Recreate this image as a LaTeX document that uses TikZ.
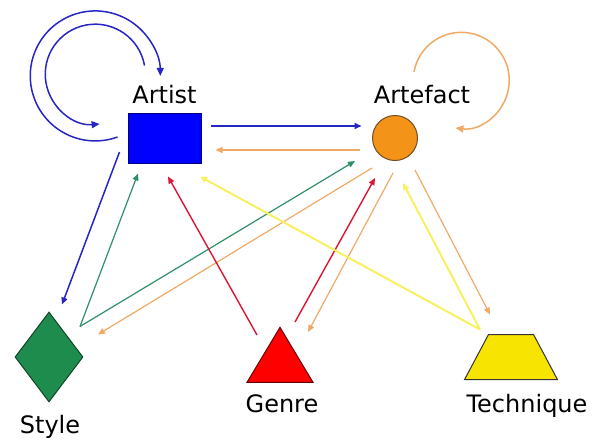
\documentclass[tikz,border=0pt]{standalone}
\usepackage{fontspec}
\setmainfont{DejaVu Sans}
\usetikzlibrary{shapes.geometric,arrows.meta}

\definecolor{artistblue}{HTML}{0000FF}
\definecolor{linkblue}{HTML}{2626C4}
\definecolor{artefactorange}{HTML}{F39419}
\definecolor{linkorange}{HTML}{F0AA66}
\definecolor{stylegreen}{HTML}{1E8C4C}
\definecolor{linkgreen}{HTML}{2E9068}
\definecolor{genrered}{HTML}{FF0000}
\definecolor{linkred}{HTML}{DC1436}
\definecolor{techyellow}{HTML}{F7E400}
\definecolor{linkyellow}{HTML}{F8F060}

\begin{document}
\begin{tikzpicture}[x=1pt, y=-1pt]
            \useasboundingbox (0,0) rectangle (592,442);

            % Stijlen
            \tikzset{
                lbl/.style={anchor=base, font=\fontsize{24pt}{28pt}\selectfont, inner sep=0pt},
                shp/.style={inner sep=0.5pt, line width=1pt},
                link/.style={-{Triangle[length=7pt,width=6pt]}, line width=1.2pt},
                loop/.style={-{Triangle[length=8pt,width=7pt]}, line width=1.5pt}
            }

            % Knopen
            \node[shp, rectangle, draw=blue!50!black, fill=artistblue,
                  minimum width=73pt, minimum height=50pt] (artist) at (164.5,138) {};
            \node[shp, circle, draw=brown!60!black, fill=artefactorange,
                  minimum size=45pt] (artefact) at (395,138) {};
            \node[shp, diamond, aspect=0.75, draw=stylegreen!50!black, fill=stylegreen,
                  minimum width=68pt, minimum height=90pt] (style) at (49,357) {};
            \node[shp, isosceles triangle, shape border rotate=90, isosceles triangle stretches,
                  draw=red!40!black, fill=genrered, minimum width=66pt, minimum height=55pt,
                  anchor=apex] (genre) at (280,326) {};
            \node[shp, trapezium, trapezium left angle=62, trapezium right angle=62,
                  draw=black!80, fill=techyellow,
                  minimum width=92pt, minimum height=45pt] (technique) at (511,357) {};

            % Labels
            \node[lbl] (artist-t) at (164.5,103) {Artist};
            \node[lbl] (artefact-t) at (422,103) {Artefact};
            \node[lbl] (style-t) at (50,433) {Style};
            \node[lbl] (genre-t) at (282,412) {Genre};
            \node[lbl] (technique-t) at (527,412) {Technique};

            % Lussen
            \draw[loop, linkblue] ([shift={(-10,-1)}]artist.west) arc[start angle=70, end angle=360, radius=65];
            \draw[loop, linkblue] ([shift={(-20,-47)}]artist.north) arc[start angle=-10, end angle=-275, radius=50];
            \draw[loop, linkorange] ([shift={(19,-43)}]artefact.north) arc[start angle=-170, end angle=97, radius=48];

            % Pijlen
            \draw[link, linkblue, line width=1.5pt] ([shift={(9,-12)}]artist.east) -- ([shift={(-10.5,-12)}]artefact.west);
            \draw[link, linkorange] ([shift={(-12.5,12)}]artefact.west) -- ([shift={(14,12)}]artist.east);
            \draw[link, linkblue, line width=1.5pt] ([shift={(-8,14)}]artist.west) -- ([shift={(13,-7)}]style.north);
            \draw[link, linkgreen] ([shift={(31,15)}]style.north) -- ([shift={(-26.5,10)}]artist.south);
            \draw[link, linkgreen] ([shift={(31,15)}]style.north) -- ([shift={(-40,23)}]artefact.center);
            \draw[link, linkorange] ([shift={(-23,30)}]artefact.center) -- ([shift={(49,23)}]style.north);
            \draw[link, linkred, line width=1.4pt] ([shift={(-23,9)}]genre.apex) -- ([shift={(3.5,13)}]artist.south);
            \draw[link, linkred, line width=1.4pt] ([shift={(15,-4)}]genre.apex) -- ([shift={(-20,40)}]artefact.center);
            \draw[link, linkorange] ([shift={(-2,35)}]artefact.center) -- ([shift={(28,6)}]genre.apex);
            \draw[link, linkyellow, line width=2pt] ([shift={(-31,-4.5)}]technique.north) -- ([shift={(35.5,13)}]artist.south);
            \draw[link, linkyellow, line width=2pt] ([shift={(-31,-4.5)}]technique.north) -- ([shift={(8,45)}]artefact.center);
            \draw[link, linkorange] ([shift={(20,32)}]artefact.center) -- ([shift={(-21,-19.5)}]technique.north);
        \end{tikzpicture}
\end{document}
